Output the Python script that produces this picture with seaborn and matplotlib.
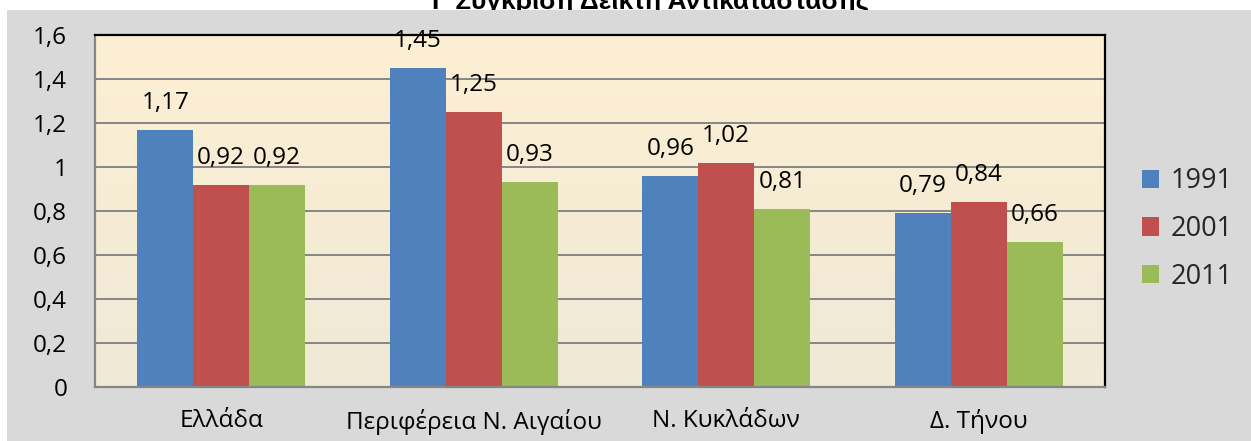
import numpy as np
import pandas as pd
import matplotlib
matplotlib.use("Agg")
import matplotlib.pyplot as plt
from matplotlib.colors import LinearSegmentedColormap
from matplotlib.patches import Rectangle
from matplotlib.ticker import FuncFormatter, MultipleLocator
import seaborn as sns

# ---- data ----
categories = ["Ελλάδα", "Περιφέρεια Ν. Αιγαίου", "Ν. Κυκλάδων", "Δ. Τήνου"]
years = ["1991", "2001", "2011"]
values_1991 = [1.17, 1.45, 0.96, 0.79]
values_2001 = [0.92, 1.25, 1.02, 0.84]
values_2011 = [0.92, 0.93, 0.81, 0.66]
colors = ["#4f81bd", "#c0504d", "#9bbb59"]
title = "Γ Σύγκριση Δείκτη Αντικατάστασης"

df = pd.DataFrame({
    "category": categories * 3,
    "year": [years[0]] * 4 + [years[1]] * 4 + [years[2]] * 4,
    "value": values_1991 + values_2001 + values_2011,
})

sns.set_theme(style="white")
plt.rcParams["font.family"] = ["Open Sans", "DejaVu Sans"]

W, H = 1251, 441
fig = plt.figure(figsize=(W / 100, H / 100), dpi=100, facecolor="white")

# title (partly hidden behind the chart area, as in reference)
fig.text(651 / W, 1 - 9 / H, title, ha="center", va="baseline",
         fontsize=19, fontweight="bold", family=["Liberation Sans", "DejaVu Sans"],
         color="black", zorder=-2)
fig.patches.append(Rectangle((7 / W, 0), 1 - 7 / W, 1 - 10 / H, transform=fig.transFigure,
                             facecolor="#d9d9d9", edgecolor="none", zorder=-1))

ax = fig.add_axes([95 / W, 54 / H, 1010 / W, 352 / H])

sns.barplot(data=df, x="category", y="value", hue="year", order=categories,
            hue_order=years, palette=colors, saturation=1, width=0.665,
            linewidth=0, ax=ax, legend=True, zorder=2)

# gradient plot-area background
cmap = LinearSegmentedColormap.from_list("bg", ["#efe9d6", "#fdefd3"])
grad = np.linspace(0, 1, 256).reshape(-1, 1)
ax.imshow(grad, extent=[-0.5, 3.5, 0, 1.6], origin="lower", aspect="auto",
          cmap=cmap, zorder=-1)

ax.set_xlim(-0.5, 3.5)
ax.set_ylim(0, 1.6)
ax.yaxis.set_major_locator(MultipleLocator(0.2))
ax.yaxis.set_major_formatter(FuncFormatter(lambda v, p: f"{v:.1f}".rstrip("0").rstrip(".").replace(".", ",") if v else "0"))
ax.set_axisbelow(True)
ax.yaxis.grid(True, color="#868686", linewidth=1.4)
ax.xaxis.grid(False)
ax.tick_params(axis="both", length=0, labelsize=17.5, colors="black")
ax.tick_params(axis="y", pad=20)
ax.tick_params(axis="x", labelsize=17.5, pad=16)
ax.set_xlabel("")
ax.set_ylabel("")

for side in ["left", "bottom"]:
    ax.spines[side].set_color("#868686")
    ax.spines[side].set_linewidth(1.6)
for side in ["top", "right"]:
    ax.spines[side].set_color("black")
    ax.spines[side].set_linewidth(1.6)

# data labels
for cont in ax.containers:
    for bar in cont:
        h = bar.get_height()
        ax.annotate(f"{h:.2f}".replace(".", ","),
                    (bar.get_x() + bar.get_width() / 2, h),
                    xytext=(0, 27), textcoords="offset pixels",
                    ha="center", va="center", fontsize=17.5, color="black")

handles, labels = ax.get_legend_handles_labels()
ax.get_legend().remove()
fig.legend(handles, labels, loc="center left", bbox_to_anchor=(1131 / W, 1 - 229 / H),
           frameon=False, fontsize=19.5, handlelength=0.65, handleheight=0.65,
           handletextpad=0.4, labelspacing=0.72, borderaxespad=0)

fig.savefig("out.png", dpi=100, facecolor="white")
